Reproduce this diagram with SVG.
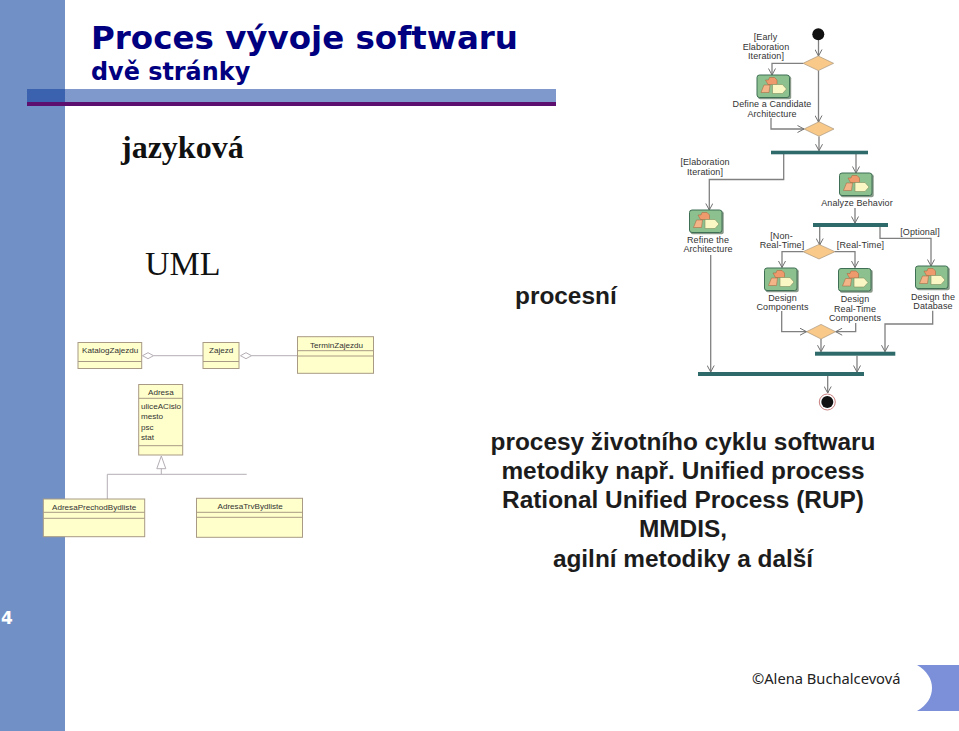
<svg xmlns="http://www.w3.org/2000/svg" xmlns:xlink="http://www.w3.org/1999/xlink" width="959" height="731" viewBox="0 0 959 731">
<style>
.sans{font-family:"Liberation Sans",Arial,sans-serif}
.head{font-family:"DejaVu Sans",Verdana,sans-serif;font-weight:700;fill:#000080}
.serif{font-family:"Liberation Serif","Times New Roman",serif;fill:#111}
.body{font-family:"Liberation Sans",Arial,sans-serif;font-size:24.400px;font-weight:700;fill:#1c1c1c;text-anchor:middle}
.act{font-family:"Liberation Sans",Arial,sans-serif;font-size:9px;letter-spacing:.1px;fill:#333;text-anchor:middle}
.cls{font-family:"Liberation Sans",Arial,sans-serif;font-size:8.100px;fill:#333}
.box{fill:#ffffcc;stroke:#a89a84;stroke-width:1}
.div{stroke:#a89a84;stroke-width:1;fill:none}
.rel{stroke:#b4aeb4;stroke-width:1;fill:none}
.flow{stroke:#808080;stroke-width:1.3;fill:none;marker-end:url(#arrow)}
.dec{fill:#f9c98a;stroke:#9a8a70;stroke-width:.6}
.bar{fill:#2f6a6a}
</style>
<defs>
<marker id="arrow" markerUnits="userSpaceOnUse" markerWidth="9" markerHeight="8" refX="7.5" refY="4" orient="auto">
<path d="M1 .5L7.5 4L1 7.5" fill="none" stroke="#707070" stroke-width="1"/>
</marker>
<g id="activity">
<rect x="1.2" y="1.2" width="33" height="23" rx="2" fill="#8a9a8a"/>
<rect x="0" y="0" width="32.500" height="22.500" rx="2.500" fill="#8dc08f" stroke="#3f6f55" stroke-width="1"/>
<path d="M8.500 5h3l1-2.500h5l2.500 2.500v4.500H11z" fill="#ef9a6c" stroke="#a5603a" stroke-width=".5"/>
<path d="M7 10h6l-1 7.500H4z" fill="#f3b488" stroke="#a5603a" stroke-width=".5"/>
<path d="M15.500 9.500h10l4 4.500-4 4.500h-10z" fill="#fbf7c4" stroke="#7f8f60" stroke-width=".6"/>
</g>
</defs>
<rect width="959" height="731" fill="#fff"/>

<!-- slide furniture -->
<g id="slide-frame">
<rect x="0" y="0" width="65" height="731" fill="#7191c6"/>
<rect x="27" y="89" width="529" height="14" fill="#7f99cc"/>
<rect x="27" y="89" width="38" height="14" fill="#3a62ae"/>
<rect x="27" y="102" width="529" height="4" fill="#5c0f6e"/>
<path d="M917 665H959V711H917C927 705 932 697 932 688C932 679 927 671 917 665Z" fill="#7b90d9"/>
<text x="1" y="624" font-family="'DejaVu Sans',sans-serif" font-size="17" font-weight="700" fill="#fff">4</text>
</g>

<g id="headings">
<text x="91" y="49" class="head" font-size="32.500">Proces vývoje softwaru</text>
<text x="91" y="79.500" class="head" font-size="23.900">dvě stránky</text>
<text x="121" y="158" class="serif" font-size="32" font-weight="700">jazyková</text>
<text x="145" y="275" class="serif" font-size="34">UML</text>
<text x="515" y="304" class="sans" font-size="24.400" font-weight="700" fill="#1c1c1c">procesní</text>
</g>

<g id="description">
<text x="683" y="450" class="body">procesy životního cyklu softwaru</text>
<text x="683" y="479" class="body">metodiky např. Unified process</text>
<text x="683" y="508" class="body">Rational Unified Process (RUP)</text>
<text x="683" y="537" class="body">MMDIS,</text>
<text x="683" y="566.500" class="body">agilní metodiky a další</text>
</g>

<text id="author" x="752" y="684" font-family="'Noto Sans',Verdana,sans-serif" font-size="14.700" fill="#222">©Alena Buchalcevová</text>

<!-- class diagram relations -->
<g id="class-connectors">
<path class="rel" d="M153.500 355.700H203M251.500 355.700H297"/>
<path class="rel" d="M142.500 355.700l5.500-3 5.500 3-5.500 3z" fill="#fff"/>
<path class="rel" d="M240.500 355.700l5.500-3 5.500 3-5.500 3z" fill="#fff"/>
<path class="rel" d="M161.300 456l4.500 12.700h-9z"/>
<path class="rel" d="M161.300 468.700V474.300M107.300 499V474.300H246.700"/>
</g>

<g id="KatalogZajezdu"><rect class="box" x="78" y="342.500" width="63.700" height="26"/><path class="div" d="M78 361.500h63.700"/><text class="cls" x="82" y="353">KatalogZajezdu</text></g>
<g id="Zajezd"><rect class="box" x="203" y="342.500" width="36" height="26"/><path class="div" d="M203 361.500h36"/><text class="cls" x="209" y="353">Zajezd</text></g>
<g id="TerminZajezdu"><rect class="box" x="297.500" y="336.700" width="76" height="36.600"/><path class="div" d="M297.500 350.700h76M297.500 356h76"/><text class="cls" x="310" y="347.500">TerminZajezdu</text></g>
<g id="Adresa"><rect class="box" x="138.700" y="384.500" width="44" height="70.500"/><path class="div" d="M138.700 398.300h44M138.700 445.700h44"/>
<text class="cls" x="148" y="395">Adresa</text><text class="cls" x="141" y="408.500">uliceACislo</text><text class="cls" x="141" y="419">mesto</text><text class="cls" x="141" y="429.500">psc</text><text class="cls" x="141" y="440">stat</text></g>
<g id="AdresaPrechodBydliste"><rect class="box" x="43.300" y="499" width="101.400" height="37.700"/><path class="div" d="M43.300 512.300h101.400M43.300 518.300h101.400"/><text class="cls" x="52" y="510">AdresaPrechodBydliste</text></g>
<g id="AdresaTrvBydliste"><rect class="box" x="196.500" y="498.300" width="106" height="39"/><path class="div" d="M196.500 512.300h106M196.500 517.300h106"/><text class="cls" x="217.500" y="509">AdresaTrvBydliste</text></g>

<!-- activity diagram flows -->
<g id="activity-connectors">
<path class="flow" d="M818.500 40V56"/>
<path class="flow" d="M803 63.300H772V75"/>
<path class="flow" d="M818.500 70.500V122"/>
<path class="flow" d="M771 118V129H804"/>
<path class="flow" d="M819 136.500V150.700"/>
<path class="flow" d="M783.700 154V179.500H709.300V210"/>
<path class="flow" d="M856 154V173"/>
<path class="flow" d="M855 208V223"/>
<path class="flow" d="M710.700 255V372"/>
<path class="flow" d="M819.700 227V245"/>
<path class="flow" d="M803 251.700H782V267.500"/>
<path class="flow" d="M835 251.700H855V267.500"/>
<path class="flow" d="M880 227V238.300H931V266"/>
<path class="flow" d="M781.700 311V331.700H806.500"/>
<path class="flow" d="M855.700 323V331.700H835.700"/>
<path class="flow" d="M821 339V351.700"/>
<path class="flow" d="M932.700 310.700V324H885V351.700"/>
<path class="flow" d="M857 355.700V372"/>
<path class="flow" d="M827.700 376V393"/>
</g>

<circle id="start" cx="818.300" cy="34.300" r="6" fill="#111"/>
<path id="decision-early" class="dec" d="M803 63.300l15.300-7.300 15.300 7.300-15.300 7.300z"/>
<path id="merge-early" class="dec" d="M804 129l15-7.300 15 7.300-15 7.300z"/>
<rect id="fork-main" class="bar" x="771" y="150.700" width="97" height="3.600"/>
<path id="decision-realtime" class="dec" d="M803 251.700l16-7.300 16 7.300-16 7.300z"/>
<rect id="fork-behavior" class="bar" x="813" y="223" width="75" height="4"/>
<path id="merge-design" class="dec" d="M806.500 331.700l14.500-7.300 14.500 7.300-14.500 7.300z"/>
<rect id="join-design" class="bar" x="815" y="351.700" width="80.300" height="4"/>
<rect id="join-main" class="bar" x="698" y="372" width="166" height="4"/>
<g id="end"><circle cx="827.300" cy="402" r="8" fill="#fff" stroke="#c98080" stroke-width="1"/><circle cx="827.300" cy="402" r="6" fill="#111"/></g>

<g id="define-candidate"><use xlink:href="#activity" href="#activity" x="757" y="75"/><text class="act" x="772" y="107">Define a Candidate</text><text class="act" x="772" y="117">Architecture</text></g>
<g id="analyze-behavior"><use xlink:href="#activity" href="#activity" x="839.500" y="173"/><text class="act" x="857" y="206">Analyze Behavior</text></g>
<g id="refine-architecture"><use xlink:href="#activity" href="#activity" x="689.500" y="210"/><text class="act" x="708" y="243">Refine the</text><text class="act" x="708" y="252">Architecture</text></g>
<g id="design-components"><use xlink:href="#activity" href="#activity" x="764.500" y="268"/><text class="act" x="782.500" y="301">Design</text><text class="act" x="782.500" y="310">Components</text></g>
<g id="design-realtime"><use xlink:href="#activity" href="#activity" x="838.500" y="268.500"/><text class="act" x="855" y="302">Design</text><text class="act" x="855" y="312">Real-Time</text><text class="act" x="855" y="321">Components</text></g>
<g id="design-database"><use xlink:href="#activity" href="#activity" x="915.500" y="266"/><text class="act" x="933" y="300">Design the</text><text class="act" x="933" y="309">Database</text></g>

<g id="guards">
<text class="act" x="765.500" y="40">[Early</text><text class="act" x="766" y="49.500">Elaboration</text><text class="act" x="766" y="59">Iteration]</text>
<text class="act" x="705" y="165">[Elaboration</text><text class="act" x="705" y="175">Iteration]</text>
<text class="act" x="781.500" y="239">[Non-</text><text class="act" x="782" y="248">Real-Time]</text>
<text class="act" x="860.500" y="248">[Real-Time]</text>
<text class="act" x="920" y="235">[Optional]</text>
</g>
</svg>
